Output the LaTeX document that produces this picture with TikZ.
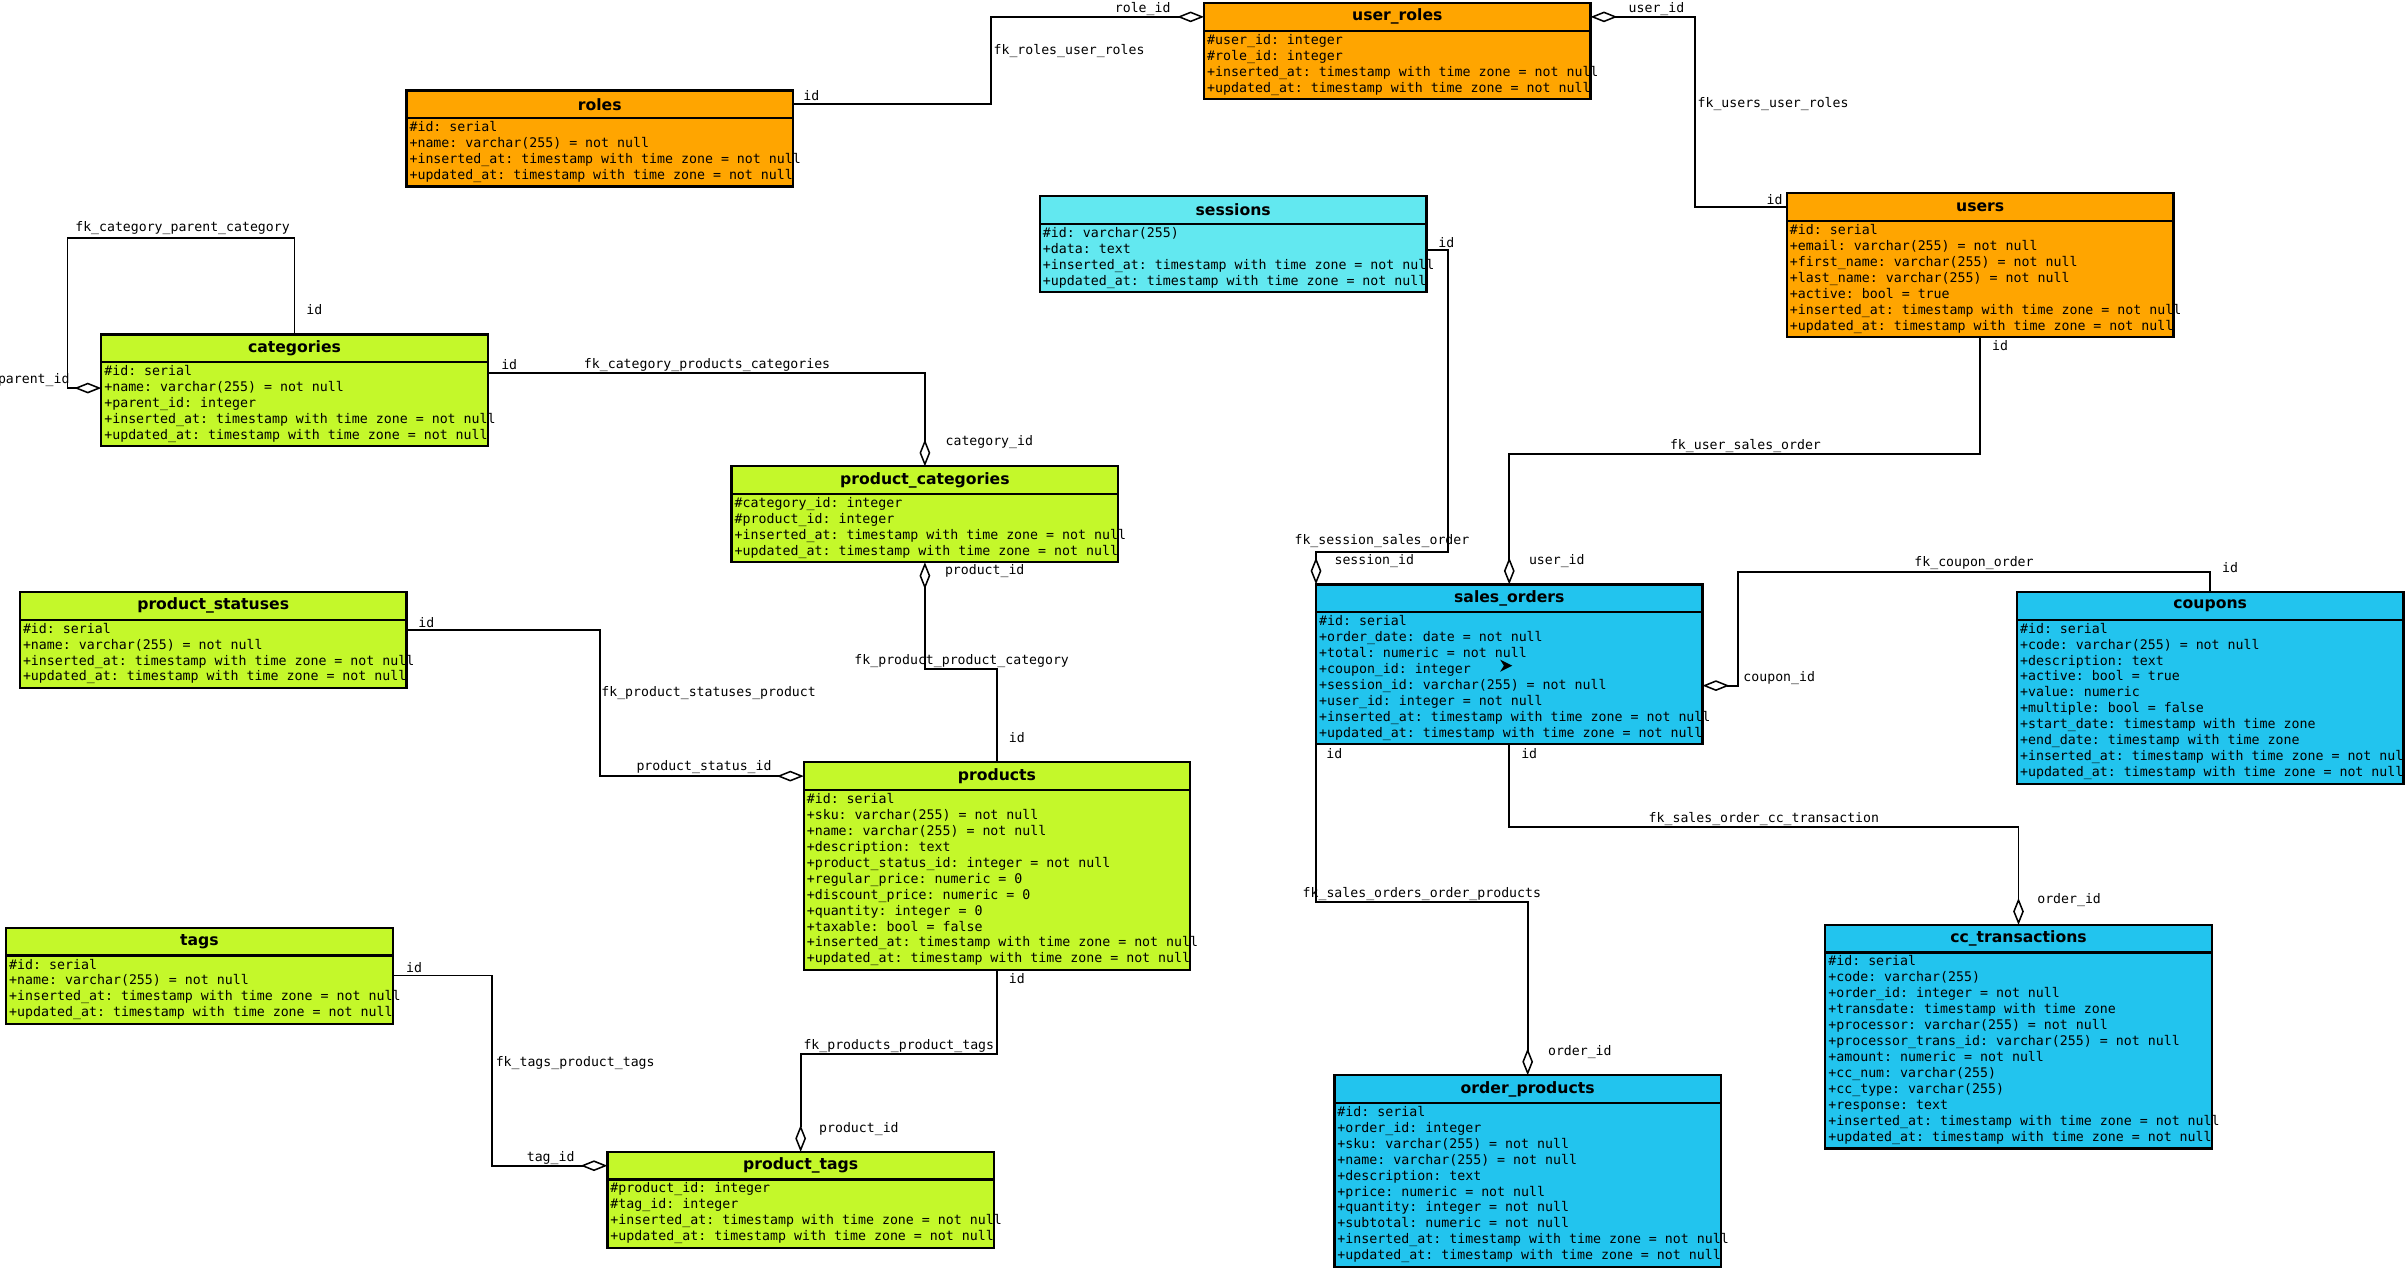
\documentclass[tikz,border=0pt]{standalone}
\usepackage{fontspec}
\usepackage{tikz}
\usetikzlibrary{arrows.meta}

\newfontfamily\rowfont{DejaVu Sans Mono}
\newfontfamily\titlefont{DejaVu Sans}

\definecolor{authcol}{HTML}{FFA500}
\definecolor{sesscol}{HTML}{62E8F0}
\definecolor{prodcol}{HTML}{C4F82A}
\definecolor{salecol}{HTML}{22C4EE}

% one field line of a table, may run over the right border
\newcommand{\fld}[1]{\makebox[248pt][l]{\strut #1}}
\newcommand{\insrow}{\fld{+inserted\_at: timestamp with time zone = not null}}
\newcommand{\updrow}{\fld{+updated\_at: timestamp with time zone = not null}}

% a table: name, top left corner, colour, title, fields
\newcommand{\dbtable}[5]{%
  \node[tbltitle, fill=#3] (#1) at #2 {#4};
  \node[tblbody, fill=#3] (#1-body) at (#1.south west) {#5};
}

\tikzset{
  tbltitle/.style={draw, line width=1.5pt, anchor=north west, outer sep=0pt, inner sep=0pt,
    minimum width=252pt, minimum height=18pt, font=\titlefont\bfseries\fontsize{10.2}{12}\selectfont},
  tblbody/.style={draw, line width=1.5pt, anchor=north west, outer sep=0pt, inner xsep=2pt,
    inner ysep=1.5pt, align=left, font=\rowfont\fontsize{8.65}{10.4}\selectfont\frenchspacing},
  fk/.style={line width=1.2pt, -{Diamond[open, length=17.5pt, width=7pt, line width=1pt]}},
  lbl/.style={font=\rowfont\fontsize{8.6}{10}\selectfont, inner sep=0pt}
}

\begin{document}
\begin{tikzpicture}[x=1pt, y=-1pt]

  \useasboundingbox (0,0) rectangle (1568,827.4);

  %%%%%%%%%%%%%%%%%%%%%%%%%%%%%%%%%%%%%%%%%%%%%%%%%%%%%%%%%%%%%%%%%%%%%%%%%%%%5
  %% Tables
  %%%%%%%%%%%%%%%%%%%%%%%%%%%%%%%%%%%%%%%%%%%%%%%%%%%%%%%%%%%%%%%%%%%%%%%%%%%%5

  % Users and roles
  \dbtable{roles}{(265,59)}{authcol}{roles}
    {\fld{\#id: serial}\\ \fld{+name: varchar(255) = not null}\\ \insrow\\ \updrow}
  \dbtable{user-roles}{(785,2)}{authcol}{user\_roles}
    {\fld{\#user\_id: integer}\\ \fld{\#role\_id: integer}\\ \insrow\\ \updrow}
  \dbtable{users}{(1165,126)}{authcol}{users}
    {\fld{\#id: serial}\\ \fld{+email: varchar(255) = not null}\\
     \fld{+first\_name: varchar(255) = not null}\\ \fld{+last\_name: varchar(255) = not null}\\
     \fld{+active: bool = true}\\ \insrow\\ \updrow}

  \dbtable{sessions}{(678,128)}{sesscol}{sessions}
    {\fld{\#id: varchar(255)}\\ \fld{+data: text}\\ \insrow\\ \updrow}

  % Catalogue
  \dbtable{categories}{(66,218)}{prodcol}{categories}
    {\fld{\#id: serial}\\ \fld{+name: varchar(255) = not null}\\ \fld{+parent\_id: integer}\\ \insrow\\ \updrow}
  \dbtable{prod-cats}{(477,304)}{prodcol}{product\_categories}
    {\fld{\#category\_id: integer}\\ \fld{\#product\_id: integer}\\ \insrow\\ \updrow}
  \dbtable{prod-statuses}{(13,386)}{prodcol}{product\_statuses}
    {\fld{\#id: serial}\\ \fld{+name: varchar(255) = not null}\\ \insrow\\ \updrow}
  \dbtable{products}{(524,497)}{prodcol}{products}
    {\fld{\#id: serial}\\ \fld{+sku: varchar(255) = not null}\\ \fld{+name: varchar(255) = not null}\\
     \fld{+description: text}\\ \fld{+product\_status\_id: integer = not null}\\
     \fld{+regular\_price: numeric = 0}\\ \fld{+discount\_price: numeric = 0}\\
     \fld{+quantity: integer = 0}\\ \fld{+taxable: bool = false}\\ \insrow\\ \updrow}
  \dbtable{tags}{(4,605)}{prodcol}{tags}
    {\fld{\#id: serial}\\ \fld{+name: varchar(255) = not null}\\ \insrow\\ \updrow}
  \dbtable{prod-tags}{(396,751)}{prodcol}{product\_tags}
    {\fld{\#product\_id: integer}\\ \fld{\#tag\_id: integer}\\ \insrow\\ \updrow}

  % Sales
  \dbtable{orders}{(858,381)}{salecol}{sales\_orders}
    {\fld{\#id: serial}\\ \fld{+order\_date: date = not null}\\ \fld{+total: numeric = not null}\\
     \fld{+coupon\_id: integer}\\ \fld{+session\_id: varchar(255) = not null}\\
     \fld{+user\_id: integer = not null}\\ \insrow\\ \updrow}
  \dbtable{coupons}{(1315,386)}{salecol}{coupons}
    {\fld{\#id: serial}\\ \fld{+code: varchar(255) = not null}\\ \fld{+description: text}\\
     \fld{+active: bool = true}\\ \fld{+value: numeric}\\ \fld{+multiple: bool = false}\\
     \fld{+start\_date: timestamp with time zone}\\ \fld{+end\_date: timestamp with time zone}\\
     \insrow\\ \updrow}
  \dbtable{cc-trans}{(1190,603)}{salecol}{cc\_transactions}
    {\fld{\#id: serial}\\ \fld{+code: varchar(255)}\\ \fld{+order\_id: integer = not null}\\
     \fld{+transdate: timestamp with time zone}\\ \fld{+processor: varchar(255) = not null}\\
     \fld{+processor\_trans\_id: varchar(255) = not null}\\ \fld{+amount: numeric = not null}\\
     \fld{+cc\_num: varchar(255)}\\ \fld{+cc\_type: varchar(255)}\\ \fld{+response: text}\\
     \insrow\\ \updrow}
  \dbtable{order-prods}{(870,701)}{salecol}{order\_products}
    {\fld{\#id: serial}\\ \fld{+order\_id: integer}\\ \fld{+sku: varchar(255) = not null}\\
     \fld{+name: varchar(255) = not null}\\ \fld{+description: text}\\
     \fld{+price: numeric = not null}\\ \fld{+quantity: integer = not null}\\
     \fld{+subtotal: numeric = not null}\\ \insrow\\ \updrow}

  %%%%%%%%%%%%%%%%%%%%%%%%%%%%%%%%%%%%%%%%%%%%%%%%%%%%%%%%%%%%%%%%%%%%%%%%%%%%5
  %% Foreign keys, diamond at the referencing table
  %%%%%%%%%%%%%%%%%%%%%%%%%%%%%%%%%%%%%%%%%%%%%%%%%%%%%%%%%%%%%%%%%%%%%%%%%%%%5

  \draw [fk] (roles.east) -| (646,40) |- (user-roles.west);
  \draw [fk] (users.west) -| (1105,70) |- (user-roles.east);

  \draw [fk] (categories.north) -- ++(0,-63) -| (44,200) |- ([yshift=-17pt]categories-body.north west);
  \draw [fk] ([yshift=-7pt]categories-body.north east) -| (prod-cats.north);
  \draw [fk] (products.north) -- ++(0,-61) -| (prod-cats-body.south);
  \draw [fk] ([yshift=-7pt]prod-statuses-body.north east) -| (391,460) |- (products.west);
  \draw [fk] (products-body.south) -- ++(0,55) -| (prod-tags.north);
  \draw [fk] ([yshift=-13pt]tags-body.north east) -| (321,700) |- (prod-tags.west);

  \draw [fk] ([yshift=-17pt]sessions-body.north east) -- ++(14,0) |- ([yshift=21pt]orders.north west) -- (orders.north west);
  \draw [fk] (users-body.south) -- ++(0,76) -| (orders.north);
  \draw [fk] (coupons.north) -- ++(0,-13) -| (1133,420) |- ([yshift=-48pt]orders-body.north east);
  \draw [fk] (orders-body.south) -- ++(0,54) -| (cc-trans.north);
  \draw [fk] (orders-body.south west) -- ++(0,103) -| (order-prods.north);

  % mouse pointer left in the picture
  \fill (978,430) -- (986,434) -- (978,438) -- (980.5,434) -- cycle;

  %%%%%%%%%%%%%%%%%%%%%%%%%%%%%%%%%%%%%%%%%%%%%%%%%%%%%%%%%%%%%%%%%%%%%%%%%%%%5
  %% Key names and column names
  %%%%%%%%%%%%%%%%%%%%%%%%%%%%%%%%%%%%%%%%%%%%%%%%%%%%%%%%%%%%%%%%%%%%%%%%%%%%5

  \foreach \x/\y/\txt [count=\i] in {
      529/62/id, 745/6/role\_id, 697/33/fk\_roles\_user\_roles,
      1080/6/user\_id, 1156/68/fk\_users\_user\_roles, 1157/130/id,
      119/149/fk\_category\_parent\_category, 205/202/id, 22/248/parent\_id,
      332/238/id, 461/238/fk\_category\_products\_categories, 645/288/category\_id,
      642/372/product\_id, 627/431/fk\_product\_product\_category, 663/481/id,
      278/406/id, 462/452/fk\_product\_statuses\_product, 459/500/product\_status\_id,
      663/638/id, 586/682/fk\_products\_product\_tags, 560/736/product\_id,
      270/631/id, 375/693/fk\_tags\_product\_tags, 359/755/tag\_id,
      943/158/id, 901/353/fk\_session\_sales\_order, 896/366/session\_id,
      1304/225/id, 1138/291/fk\_user\_sales\_order, 1015/366/user\_id,
      1454/370/id, 1287/367/fk\_coupon\_order, 1160/442/coupon\_id,
      997/491/id, 1150/534/fk\_sales\_order\_cc\_transaction, 1349/587/order\_id,
      870/491/id, 927/583/fk\_sales\_orders\_order\_products, 1030/686/order\_id}
    \node [lbl] (lbl-\i) at (\x,\y) {\txt};

\end{tikzpicture}
\end{document}
